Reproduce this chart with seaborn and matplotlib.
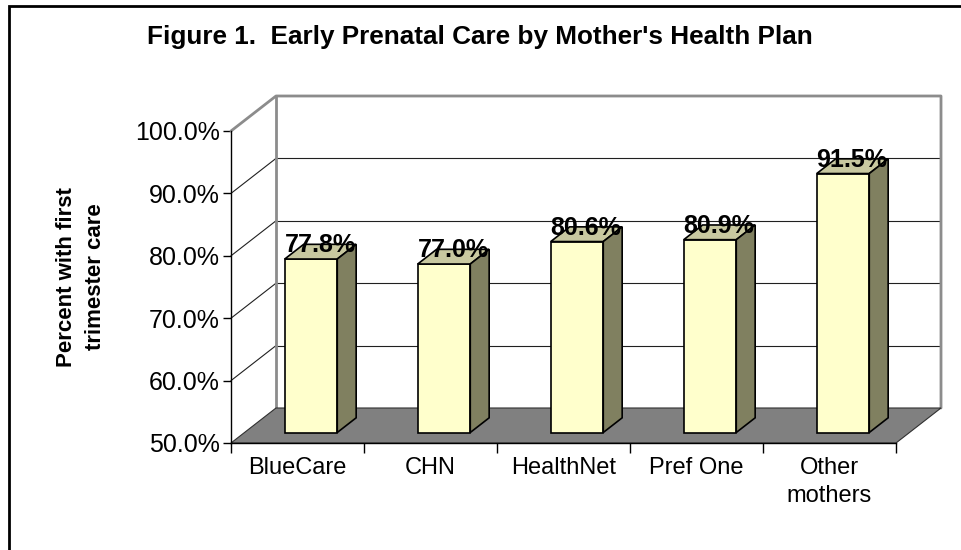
import matplotlib
matplotlib.use('Agg')
import matplotlib.pyplot as plt
from matplotlib.patches import Polygon, Rectangle
import seaborn as sns
import pandas as pd

plans = ['BlueCare', 'CHN', 'HealthNet', 'Pref One', 'Other\nmothers']
pct_first_trimester = [77.8, 77.0, 80.6, 80.9, 91.5]
y_ticks = [50, 60, 70, 80, 90, 100]

df = pd.DataFrame({'plan': plans, 'pct': pct_first_trimester})

sns.set_theme(style='white')
plt.rcParams['font.family'] = ['Liberation Sans', 'DejaVu Sans']
plt.rcParams['text.color'] = 'black'

fig = plt.figure(figsize=(9.61, 5.5), dpi=100)
ax = fig.add_axes([231 / 961, 107 / 550, 665 / 961, 312 / 550])

# fake 3d: depth pushes things right and up (about 45px, 35px)
DX = 45 / 133.0
DY = 35 / 6.24
D0, D1 = 0.3, 0.72  # depth range of the bars


def P(x, y, d):
    return (x + d * DX, y + d * DY)


sns.barplot(data=df, x='plan', y='pct', color='#FFFFCC', saturation=1,
            width=0.395, edgecolor='black', linewidth=1.2, ax=ax, zorder=4)
ax.set_xlim(-0.5, 4.5)
ax.set_ylim(50, 100)

# floor
ax.add_patch(Polygon([P(-0.5, 50, 0), P(4.5, 50, 0), P(4.5, 50, 1), P(-0.5, 50, 1)],
                     closed=True, facecolor='#808080', edgecolor='#303030',
                     lw=0.8, clip_on=False, zorder=1))

# gridlines on back wall + left wall
for t in y_ticks[1:-1]:
    ax.plot(*zip(P(-0.5, t, 1), P(4.5, t, 1)), color='#202020', lw=0.8, clip_on=False, zorder=0.5)
    ax.plot(*zip(P(-0.5, t, 0), P(-0.5, t, 1)), color='#202020', lw=0.8, clip_on=False, zorder=0.5)

# wall edges
edge = dict(color='#8c8c8c', lw=2, clip_on=False, zorder=0.6)
ax.plot(*zip(P(-0.5, 100, 0), P(-0.5, 100, 1), P(4.5, 100, 1), P(4.5, 50, 1)), **edge)
ax.plot(*zip(P(-0.5, 50, 1), P(-0.5, 100, 1)), **edge)

# turn flat bars into boxes
for p, v in zip(ax.patches[:len(plans)], pct_first_trimester):
    x0, w = p.get_x(), p.get_width()
    p.set_xy(P(x0, 50, D0))
    p.set_height(v - 50)
    p.set_clip_on(False)
    top = [P(x0, v, D0), P(x0 + w, v, D0), P(x0 + w, v, D1), P(x0, v, D1)]
    side = [P(x0 + w, 50, D0), P(x0 + w, 50, D1), P(x0 + w, v, D1), P(x0 + w, v, D0)]
    ax.add_patch(Polygon(top, closed=True, facecolor='#C8C8A0', edgecolor='black',
                         lw=1.2, clip_on=False, zorder=4))
    ax.add_patch(Polygon(side, closed=True, facecolor='#808060', edgecolor='black',
                         lw=1.2, clip_on=False, zorder=4))
    ax.text(*P(x0 + w / 2, v, 0.5), f'{v:.1f}%', ha='center', va='baseline',
            fontsize=18, fontweight='bold', color='black', zorder=6)

for s in ['top', 'right']:
    ax.spines[s].set_visible(False)
for s in ['left', 'bottom']:
    ax.spines[s].set_color('black')
    ax.spines[s].set_linewidth(1)
    ax.spines[s].set_zorder(2)

ax.set_yticks(y_ticks)
ax.set_yticklabels([f'{t:.1f}%' for t in y_ticks])
ax.tick_params(axis='y', left=True, direction='out', length=6, width=1,
               color='black', labelsize=18, pad=2, labelcolor='black')
ax.set_xticks(range(len(plans)))
ax.set_xticklabels(plans, linespacing=1.35)
ax.set_xticks([i - 0.5 for i in range(len(plans) + 1)], minor=True)
ax.tick_params(axis='x', which='major', bottom=True, length=0, labelsize=17,
               pad=10, labelcolor='black')
ax.tick_params(axis='x', which='minor', bottom=True, direction='out', length=7,
               width=1, color='black')
ax.set_xlabel('')
ax.set_ylabel('')
ax.patch.set_alpha(0)

fig.text(81 / 961, 1 - 277 / 550, 'Percent with first\ntrimester care', rotation=90,
         ha='center', va='center', fontsize=16, fontweight='bold', linespacing=1.45,
         color='black')
fig.text(480 / 961, 1 - 37 / 550, "Figure 1.  Early Prenatal Care by Mother's Health Plan",
         ha='center', va='center', fontsize=18.8, fontweight='bold', color='black')

# outer frame (runs off the right and bottom of the picture)
fig.add_artist(Rectangle((8.5 / 961, -0.1), 1.2, 1.1 - 5.5 / 550,
                         transform=fig.transFigure, fill=False, edgecolor='black', lw=2))

fig.savefig('out.png', dpi=100)
